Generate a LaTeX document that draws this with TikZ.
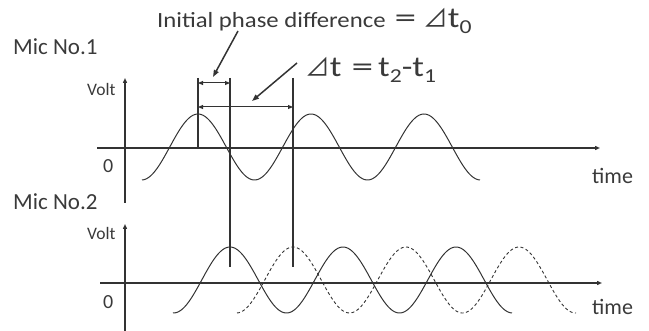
\documentclass[tikz,border=0pt]{standalone}
\usepackage{fontspec}
\setmainfont{Carlito}
\newfontfamily\widefont[FakeStretch=1.14]{Carlito}
\newfontfamily\bigfont[FakeStretch=1.2]{Carlito}
\newfontfamily\jpfont{Noto Sans CJK JP}
\usetikzlibrary{arrows.meta}
\definecolor{ink}{HTML}{333333}
\definecolor{txt}{HTML}{3A3A3A}
\newcommand\mysub[1]{\raisebox{-0.2em}{\scalebox{0.68}{#1}}}
\newcommand\tri{\scalebox{0.85}{\jpfont ⊿}}
\newcommand\weq{\scalebox{1.25}[1]{=}}
\begin{document}
\begin{tikzpicture}[x=1pt,y=-1pt,
  axis/.style={draw=ink,line width=1.4pt,-{Triangle[length=5pt,width=4pt]}},
  wave/.style={draw=ink,line width=1pt},
  dwave/.style={draw=ink,line width=0.9pt,dash pattern=on 3pt off 2.5pt},
  vline/.style={draw=ink,line width=1.1pt},
  dimarrow/.style={draw=ink,line width=1pt,{Triangle[length=5pt,width=4pt]}-{Triangle[length=5pt,width=4pt]}},
  callout/.style={draw=ink,line width=1.5pt,-{Triangle[length=7pt,width=5pt]}},
  lbl/.style={inner sep=0pt,anchor=base west,text=txt}]
\useasboundingbox (0,0) rectangle (649,331);
% axes coordinates
\coordinate (ya1b) at (125,203); \coordinate (ya1t) at (125,78);
\coordinate (xa1l) at (97,148); \coordinate (xa1r) at (600,148);
\coordinate (ya2b) at (125,331); \coordinate (ya2t) at (125,224);
\coordinate (xa2l) at (100,283); \coordinate (xa2r) at (602,283);
\draw[axis] (ya1b) -- (ya1t);
\draw[axis] (xa1l) -- (xa1r);
\draw[axis] (ya2b) -- (ya2t);
\draw[axis] (xa2l) -- (xa2r);
% waves
\draw[wave] plot[domain=142:480,samples=200] (\x,{147-33*cos((\x-198)*3.18584)});
\draw[wave] plot[domain=173:512,samples=200] (\x,{280-33*cos((\x-230)*3.18584)});
\draw[dwave] plot[domain=237:576,samples=200] (\x,{280-33*cos((\x-293)*3.18584)});
% vertical reference lines
\coordinate (v0t) at (198,78); \coordinate (v0b) at (198,148);
\coordinate (v1t) at (230,78); \coordinate (v1b) at (230,267);
\coordinate (v2t) at (293,78); \coordinate (v2b) at (293,267);
\draw[vline] (v0t) -- (v0b);
\draw[vline] (v1t) -- (v1b);
\draw[vline] (v2t) -- (v2b);
% dimension arrows
\coordinate (d0a) at (198,83); \coordinate (d0b) at (230,83);
\coordinate (d1a) at (198,107); \coordinate (d1b) at (293,107);
\draw[dimarrow] (d0a) -- (d0b);
\draw[dimarrow] (d1a) -- (d1b);
% labels
\node[lbl,font=\fontsize{23}{23}\selectfont] (mic1) at (13,55) {Mic No.1};
\node[lbl,font=\fontsize{23}{23}\selectfont] (mic2) at (13,210) {Mic No.2};
\node[lbl] (ipd) at (157,28) {{\widefont\fontsize{21.7}{22}\selectfont Initial phase difference}\hspace{9pt}{\bigfont\fontsize{29}{29}\selectfont \weq\hspace{7pt}\tri t\mysub{0}}};
\node[lbl,font=\bigfont\fontsize{29}{29}\selectfont] (dt) at (305,77) {\tri t\hspace{10pt}\weq\hspace{5pt}t\mysub{2}-t\mysub{1}};
\node[lbl,font=\fontsize{17.5}{18}\selectfont] (volt1) at (87,96) {Volt};
\node[lbl,font=\fontsize{17.5}{18}\selectfont] (volt2) at (87,240) {Volt};
\node[lbl,font=\fontsize{20}{20}\selectfont] (zero1) at (103,173) {0};
\node[lbl,font=\fontsize{20}{20}\selectfont] (zero2) at (103,309) {0};
\node[lbl,font=\fontsize{22}{22}\selectfont] (time1) at (592,184) {time};
\node[lbl,font=\fontsize{22}{22}\selectfont] (time2) at (592,315) {time};
% callouts
\coordinate (c0s) at (238,31); \coordinate (c0e) at (213,77);
\coordinate (c1s) at (297,63); \coordinate (c1e) at (252,101);
\draw[callout] (c0s) -- (c0e);
\draw[callout] (c1s) -- (c1e);
\end{tikzpicture}
\end{document}
